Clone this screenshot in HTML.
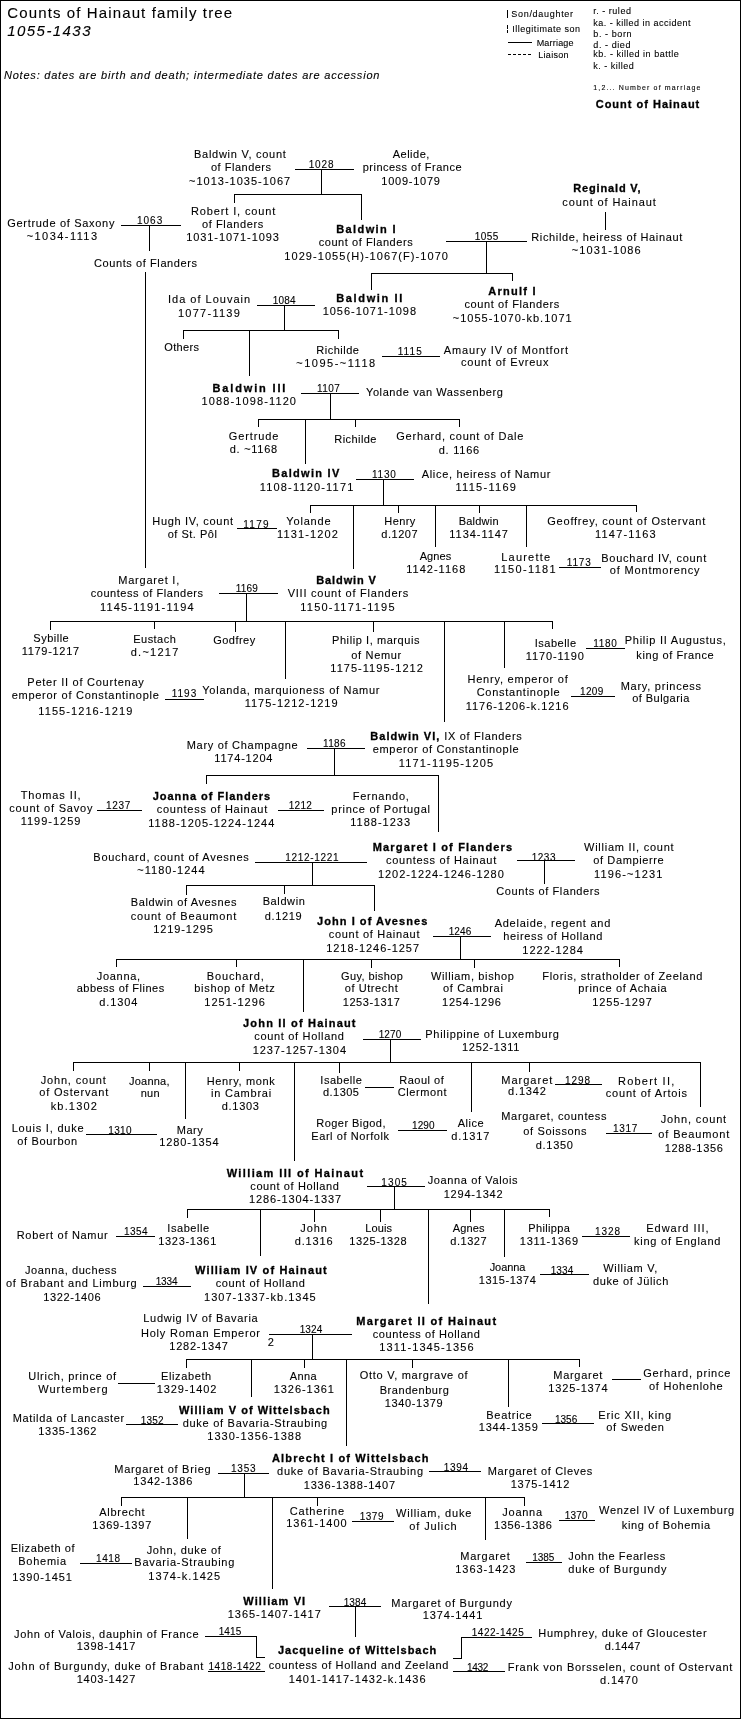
<!DOCTYPE html>
<html><head><meta charset="utf-8"><style>
html,body{margin:0;padding:0;background:#fff}
#pg{position:relative;width:741px;height:1719px;overflow:hidden;background:#fff;filter:grayscale(1)}
#pg div{position:absolute;white-space:nowrap;font-family:"Liberation Sans",sans-serif;font-size:11px;line-height:13px;color:#000;-webkit-text-stroke:0.1px #000}
#bd{position:absolute;left:0;top:0;width:739px;height:1717px;border:1px solid #000}
svg{position:absolute;left:0;top:0}
</style></head><body><div id="pg">
<span id="bd"></span>
<svg width="741" height="1719" fill="none" stroke="#000" stroke-width="1" shape-rendering="crispEdges">
<polyline points="507.5,9.5 507.5,17.5"/>
<polyline points="507.5,24.5 507.5,32.5" stroke-dasharray="4,1"/>
<polyline points="507.5,42.5 531.5,42.5"/>
<polyline points="507.5,54.5 531.5,54.5" stroke-dasharray="3,2"/>
<polyline points="294.5,169.5 353.5,169.5"/>
<polyline points="321.5,169.5 321.5,193.5"/>
<polyline points="234.5,202.5 234.5,194.5 361.5,194.5 361.5,219.5"/>
<polyline points="120.5,225.5 180.5,225.5"/>
<polyline points="149.5,225.5 149.5,250.5"/>
<polyline points="145.5,271.5 145.5,567.5"/>
<polyline points="445.5,241.5 526.5,241.5"/>
<polyline points="605.5,211.5 605.5,229.5"/>
<polyline points="486.5,241.5 486.5,273.5"/>
<polyline points="371.5,289.5 371.5,273.5 512.5,273.5 512.5,280.5"/>
<polyline points="256.5,305.5 314.5,305.5"/>
<polyline points="284.5,305.5 284.5,330.5"/>
<polyline points="183.5,338.5 183.5,330.5 338.5,330.5 338.5,338.5"/>
<polyline points="249.5,330.5 249.5,375.5"/>
<polyline points="381.5,356.5 439.5,356.5"/>
<polyline points="300.5,393.5 358.5,393.5"/>
<polyline points="330.5,393.5 330.5,419.5"/>
<polyline points="258.5,426.5 258.5,419.5 459.5,419.5 459.5,426.5"/>
<polyline points="355.5,419.5 355.5,426.5"/>
<polyline points="305.5,419.5 305.5,463.5"/>
<polyline points="355.5,479.5 413.5,479.5"/>
<polyline points="383.5,479.5 383.5,505.5"/>
<polyline points="310.5,512.5 310.5,505.5 636.5,505.5 636.5,511.5"/>
<polyline points="398.5,505.5 398.5,512.5"/>
<polyline points="479.5,505.5 479.5,512.5"/>
<polyline points="353.5,505.5 353.5,568.5"/>
<polyline points="435.5,505.5 435.5,546.5"/>
<polyline points="526.5,505.5 526.5,546.5"/>
<polyline points="236.5,528.5 276.5,528.5"/>
<polyline points="558.5,567.5 600.5,567.5"/>
<polyline points="218.5,593.5 277.5,593.5"/>
<polyline points="50.5,629.5 50.5,621.5 552.5,621.5 552.5,628.5"/>
<polyline points="154.5,621.5 154.5,628.5"/>
<polyline points="235.5,621.5 235.5,631.5"/>
<polyline points="373.5,621.5 373.5,631.5"/>
<polyline points="285.5,621.5 285.5,678.5"/>
<polyline points="504.5,621.5 504.5,667.5"/>
<polyline points="246.5,593.5 246.5,621.5"/>
<polyline points="585.5,648.5 624.5,648.5"/>
<polyline points="164.5,699.5 203.5,699.5"/>
<polyline points="570.5,696.5 614.5,696.5"/>
<polyline points="444.5,621.5 444.5,721.5"/>
<polyline points="306.5,748.5 364.5,748.5"/>
<polyline points="334.5,748.5 334.5,775.5"/>
<polyline points="206.5,783.5 206.5,775.5 438.5,775.5 438.5,831.5"/>
<polyline points="96.5,810.5 141.5,810.5"/>
<polyline points="277.5,810.5 323.5,810.5"/>
<polyline points="254.5,862.5 366.5,862.5"/>
<polyline points="312.5,862.5 312.5,885.5"/>
<polyline points="186.5,894.5 186.5,885.5 374.5,885.5 374.5,910.5"/>
<polyline points="284.5,885.5 284.5,893.5"/>
<polyline points="516.5,860.5 574.5,860.5"/>
<polyline points="544.5,860.5 544.5,883.5"/>
<polyline points="432.5,936.5 490.5,936.5"/>
<polyline points="460.5,936.5 460.5,959.5"/>
<polyline points="116.5,966.5 116.5,959.5 619.5,959.5 619.5,966.5"/>
<polyline points="236.5,959.5 236.5,966.5"/>
<polyline points="371.5,959.5 371.5,967.5"/>
<polyline points="474.5,959.5 474.5,967.5"/>
<polyline points="303.5,959.5 303.5,1011.5"/>
<polyline points="362.5,1039.5 420.5,1039.5"/>
<polyline points="390.5,1039.5 390.5,1062.5"/>
<polyline points="73.5,1070.5 73.5,1062.5 700.5,1062.5 700.5,1106.5"/>
<polyline points="149.5,1062.5 149.5,1070.5"/>
<polyline points="239.5,1062.5 239.5,1070.5"/>
<polyline points="339.5,1062.5 339.5,1072.5"/>
<polyline points="529.5,1062.5 529.5,1071.5"/>
<polyline points="185.5,1062.5 185.5,1118.5"/>
<polyline points="294.5,1062.5 294.5,1160.5"/>
<polyline points="471.5,1062.5 471.5,1111.5"/>
<polyline points="85.5,1134.5 156.5,1134.5"/>
<polyline points="364.5,1087.5 393.5,1087.5"/>
<polyline points="397.5,1130.5 446.5,1130.5"/>
<polyline points="554.5,1084.5 601.5,1084.5"/>
<polyline points="605.5,1133.5 651.5,1133.5"/>
<polyline points="366.5,1186.5 424.5,1186.5"/>
<polyline points="394.5,1186.5 394.5,1209.5"/>
<polyline points="187.5,1217.5 187.5,1209.5 549.5,1209.5 549.5,1216.5"/>
<polyline points="314.5,1209.5 314.5,1221.5"/>
<polyline points="380.5,1209.5 380.5,1221.5"/>
<polyline points="470.5,1209.5 470.5,1221.5"/>
<polyline points="260.5,1209.5 260.5,1255.5"/>
<polyline points="428.5,1209.5 428.5,1303.5"/>
<polyline points="504.5,1209.5 504.5,1256.5"/>
<polyline points="115.5,1236.5 154.5,1236.5"/>
<polyline points="581.5,1236.5 629.5,1236.5"/>
<polyline points="142.5,1286.5 190.5,1286.5"/>
<polyline points="539.5,1274.5 588.5,1274.5"/>
<polyline points="268.5,1334.5 351.5,1334.5"/>
<polyline points="312.5,1334.5 312.5,1359.5"/>
<polyline points="186.5,1367.5 186.5,1359.5 579.5,1359.5 579.5,1366.5"/>
<polyline points="304.5,1359.5 304.5,1367.5"/>
<polyline points="412.5,1359.5 412.5,1367.5"/>
<polyline points="251.5,1359.5 251.5,1396.5"/>
<polyline points="346.5,1359.5 346.5,1445.5"/>
<polyline points="508.5,1359.5 508.5,1406.5"/>
<polyline points="117.5,1383.5 154.5,1383.5"/>
<polyline points="611.5,1379.5 640.5,1379.5"/>
<polyline points="125.5,1424.5 177.5,1424.5"/>
<polyline points="541.5,1423.5 593.5,1423.5"/>
<polyline points="217.5,1473.5 268.5,1473.5"/>
<polyline points="244.5,1473.5 244.5,1497.5"/>
<polyline points="428.5,1471.5 480.5,1471.5"/>
<polyline points="121.5,1505.5 121.5,1497.5 524.5,1497.5 524.5,1505.5"/>
<polyline points="187.5,1497.5 187.5,1538.5"/>
<polyline points="272.5,1497.5 272.5,1588.5"/>
<polyline points="317.5,1497.5 317.5,1505.5"/>
<polyline points="485.5,1497.5 485.5,1539.5"/>
<polyline points="351.5,1521.5 393.5,1521.5"/>
<polyline points="558.5,1520.5 594.5,1520.5"/>
<polyline points="79.5,1563.5 131.5,1563.5"/>
<polyline points="525.5,1562.5 561.5,1562.5"/>
<polyline points="328.5,1606.5 380.5,1606.5"/>
<polyline points="355.5,1606.5 355.5,1636.5"/>
<polyline points="204.5,1636.5 256.5,1636.5 256.5,1657.5 264.5,1657.5"/>
<polyline points="207.5,1671.5 264.5,1671.5"/>
<polyline points="452.5,1658.5 461.5,1658.5 461.5,1637.5 531.5,1637.5"/>
<polyline points="452.5,1671.5 504.5,1671.5"/>
</svg>
<div style="left:7.3px;top:6.3px;letter-spacing:1.12px;font-size:15px">Counts of Hainaut family tree</div>
<div style="left:7.3px;top:24.4px;letter-spacing:1.43px;font-size:15px;font-style:italic">1055-1433</div>
<div style="left:4.0px;top:69.2px;letter-spacing:0.78px;font-size:11px;font-style:italic">Notes: dates are birth and death; intermediate dates are accession</div>
<div style="left:511.3px;top:8.2px;letter-spacing:0.70px;font-size:9px">Son/daughter</div>
<div style="left:512.3px;top:23.2px;letter-spacing:0.51px;font-size:9px">Illegitimate son</div>
<div style="left:536.7px;top:36.6px;letter-spacing:0.19px;font-size:9px">Marriage</div>
<div style="left:538.3px;top:49.2px;letter-spacing:0.28px;font-size:9px">Liaison</div>
<div style="left:593.3px;top:5.2px;letter-spacing:0.51px;font-size:9px">r. - ruled</div>
<div style="left:593.3px;top:16.9px;letter-spacing:0.48px;font-size:9px">ka. - killed in accident</div>
<div style="left:593.3px;top:27.9px;letter-spacing:0.59px;font-size:9px">b. - born</div>
<div style="left:593.3px;top:38.6px;letter-spacing:0.58px;font-size:9px">d. - died</div>
<div style="left:593.3px;top:47.9px;letter-spacing:0.52px;font-size:9px">kb. - killed in battle</div>
<div style="left:593.3px;top:60.2px;letter-spacing:0.50px;font-size:9px">k. - killed</div>
<div style="left:593.3px;top:81.1px;letter-spacing:1.14px;font-size:7px">1,2... Number of marriage</div>
<div style="left:595.7px;top:98.2px;letter-spacing:1.00px;font-size:11px;font-weight:bold;-webkit-text-stroke:0.3px #000">Count of Hainaut</div>
<div style="left:194.0px;top:147.7px;letter-spacing:0.73px;font-size:11px">Baldwin V, count</div>
<div style="left:211.0px;top:161.2px;letter-spacing:0.50px;font-size:11px">of Flanders</div>
<div style="left:189.0px;top:174.7px;letter-spacing:1.00px;font-size:11px">~1013-1035-1067</div>
<div style="left:308.7px;top:157.5px;letter-spacing:0.87px;font-size:10px">1028</div>
<div style="left:392.7px;top:147.7px;letter-spacing:0.50px;font-size:11px">Aelide,</div>
<div style="left:362.7px;top:161.2px;letter-spacing:0.49px;font-size:11px">princess of France</div>
<div style="left:381.3px;top:174.7px;letter-spacing:0.75px;font-size:11px">1009-1079</div>
<div style="left:7.3px;top:216.9px;letter-spacing:0.69px;font-size:11px">Gertrude of Saxony</div>
<div style="left:26.7px;top:229.9px;letter-spacing:1.44px;font-size:11px">~1034-1113</div>
<div style="left:137.0px;top:213.5px;letter-spacing:1.00px;font-size:10px">1063</div>
<div style="left:94.0px;top:256.9px;letter-spacing:0.59px;font-size:11px">Counts of Flanders</div>
<div style="left:191.0px;top:205.0px;letter-spacing:0.87px;font-size:11px">Robert I, count</div>
<div style="left:201.9px;top:217.6px;letter-spacing:0.63px;font-size:11px">of Flanders</div>
<div style="left:186.2px;top:231.4px;letter-spacing:0.92px;font-size:11px">1031-1071-1093</div>
<div style="left:336.3px;top:222.7px;letter-spacing:1.38px;font-size:11px;font-weight:bold;-webkit-text-stroke:0.3px #000">Baldwin I</div>
<div style="left:318.7px;top:235.9px;letter-spacing:0.56px;font-size:11px">count of Flanders</div>
<div style="left:284.3px;top:249.5px;letter-spacing:1.06px;font-size:11px">1029-1055(H)-1067(F)-1070</div>
<div style="left:573.3px;top:181.9px;letter-spacing:0.84px;font-size:11px;font-weight:bold;-webkit-text-stroke:0.3px #000">Reginald V,</div>
<div style="left:562.3px;top:196.2px;letter-spacing:0.89px;font-size:11px">count of Hainaut</div>
<div style="left:531.3px;top:231.2px;letter-spacing:0.63px;font-size:11px">Richilde, heiress of Hainaut</div>
<div style="left:571.7px;top:243.5px;letter-spacing:1.11px;font-size:11px">~1031-1086</div>
<div style="left:474.8px;top:230.1px;letter-spacing:0.43px;font-size:10px">1055</div>
<div style="left:336.3px;top:292.2px;letter-spacing:1.63px;font-size:11px;font-weight:bold;-webkit-text-stroke:0.3px #000">Baldwin II</div>
<div style="left:322.7px;top:305.2px;letter-spacing:0.97px;font-size:11px">1056-1071-1098</div>
<div style="left:488.3px;top:285.0px;letter-spacing:1.26px;font-size:11px;font-weight:bold;-webkit-text-stroke:0.3px #000">Arnulf I</div>
<div style="left:464.4px;top:297.5px;letter-spacing:0.62px;font-size:11px">count of Flanders</div>
<div style="left:452.8px;top:311.9px;letter-spacing:1.00px;font-size:11px">~1055-1070-kb.1071</div>
<div style="left:168.0px;top:293.2px;letter-spacing:1.00px;font-size:11px">Ida of Louvain</div>
<div style="left:178.0px;top:306.9px;letter-spacing:1.25px;font-size:11px">1077-1139</div>
<div style="left:272.7px;top:293.5px;letter-spacing:0.20px;font-size:10px">1084</div>
<div style="left:164.3px;top:340.9px;letter-spacing:0.34px;font-size:11px">Others</div>
<div style="left:316.3px;top:343.7px;letter-spacing:0.49px;font-size:11px">Richilde</div>
<div style="left:296.3px;top:356.9px;letter-spacing:1.50px;font-size:11px">~1095-~1118</div>
<div style="left:397.7px;top:345.0px;letter-spacing:1.10px;font-size:10px">1115</div>
<div style="left:443.7px;top:344.2px;letter-spacing:0.87px;font-size:11px">Amaury IV of Montfort</div>
<div style="left:461.0px;top:356.2px;letter-spacing:0.79px;font-size:11px">count of Evreux</div>
<div style="left:212.5px;top:381.9px;letter-spacing:1.85px;font-size:11px;font-weight:bold;-webkit-text-stroke:0.3px #000">Baldwin III</div>
<div style="left:201.5px;top:395.2px;letter-spacing:1.12px;font-size:11px">1088-1098-1120</div>
<div style="left:317.0px;top:381.5px;letter-spacing:0.43px;font-size:10px">1107</div>
<div style="left:366.0px;top:385.9px;letter-spacing:0.59px;font-size:11px">Yolande van Wassenberg</div>
<div style="left:228.8px;top:429.5px;letter-spacing:0.87px;font-size:11px">Gertrude</div>
<div style="left:229.8px;top:442.5px;letter-spacing:0.71px;font-size:11px">d. ~1168</div>
<div style="left:334.3px;top:432.5px;letter-spacing:0.43px;font-size:11px">Richilde</div>
<div style="left:396.3px;top:429.5px;letter-spacing:0.75px;font-size:11px">Gerhard, count of Dale</div>
<div style="left:438.7px;top:444.2px;letter-spacing:0.77px;font-size:11px">d. 1166</div>
<div style="left:272.0px;top:466.9px;letter-spacing:1.30px;font-size:11px;font-weight:bold;-webkit-text-stroke:0.3px #000">Baldwin IV</div>
<div style="left:259.7px;top:480.9px;letter-spacing:1.18px;font-size:11px">1108-1120-1171</div>
<div style="left:372.0px;top:467.5px;letter-spacing:0.77px;font-size:10px">1130</div>
<div style="left:421.7px;top:467.7px;letter-spacing:0.68px;font-size:11px">Alice, heiress of Namur</div>
<div style="left:455.5px;top:480.7px;letter-spacing:1.28px;font-size:11px">1115-1169</div>
<div style="left:152.3px;top:515.2px;letter-spacing:0.69px;font-size:11px">Hugh IV, count</div>
<div style="left:167.7px;top:527.9px;letter-spacing:0.51px;font-size:11px">of St. Pôl</div>
<div style="left:243.2px;top:517.5px;letter-spacing:1.30px;font-size:10px">1179</div>
<div style="left:286.3px;top:515.2px;letter-spacing:0.83px;font-size:11px">Yolande</div>
<div style="left:277.0px;top:527.9px;letter-spacing:1.12px;font-size:11px">1131-1202</div>
<div style="left:384.3px;top:515.2px;letter-spacing:0.42px;font-size:11px">Henry</div>
<div style="left:381.3px;top:527.9px;letter-spacing:0.54px;font-size:11px">d.1207</div>
<div style="left:458.7px;top:515.2px;letter-spacing:0.22px;font-size:11px">Baldwin</div>
<div style="left:449.3px;top:527.9px;letter-spacing:0.96px;font-size:11px">1134-1147</div>
<div style="left:547.3px;top:514.5px;letter-spacing:0.77px;font-size:11px">Geoffrey, count of Ostervant</div>
<div style="left:595.0px;top:527.5px;letter-spacing:1.21px;font-size:11px">1147-1163</div>
<div style="left:419.7px;top:550.2px;letter-spacing:0.08px;font-size:11px">Agnes</div>
<div style="left:406.3px;top:562.9px;letter-spacing:1.00px;font-size:11px">1142-1168</div>
<div style="left:501.3px;top:550.9px;letter-spacing:1.20px;font-size:11px">Laurette</div>
<div style="left:494.0px;top:562.9px;letter-spacing:1.34px;font-size:11px">1150-1181</div>
<div style="left:566.7px;top:555.5px;letter-spacing:0.87px;font-size:10px">1173</div>
<div style="left:601.3px;top:551.9px;letter-spacing:0.73px;font-size:11px">Bouchard IV, count</div>
<div style="left:609.7px;top:564.2px;letter-spacing:0.85px;font-size:11px">of Montmorency</div>
<div style="left:118.3px;top:574.2px;letter-spacing:0.77px;font-size:11px">Margaret I,</div>
<div style="left:90.7px;top:586.9px;letter-spacing:0.54px;font-size:11px">countess of Flanders</div>
<div style="left:100.0px;top:600.9px;letter-spacing:1.18px;font-size:11px">1145-1191-1194</div>
<div style="left:235.8px;top:582.3px;letter-spacing:0.17px;font-size:10px">1169</div>
<div style="left:316.3px;top:573.5px;letter-spacing:0.88px;font-size:11px;font-weight:bold;-webkit-text-stroke:0.3px #000">Baldwin V</div>
<div style="left:287.7px;top:586.9px;letter-spacing:0.76px;font-size:11px">VIII count of Flanders</div>
<div style="left:300.3px;top:600.9px;letter-spacing:1.23px;font-size:11px">1150-1171-1195</div>
<div style="left:33.3px;top:631.9px;letter-spacing:0.50px;font-size:11px">Sybille</div>
<div style="left:21.7px;top:645.2px;letter-spacing:0.70px;font-size:11px">1179-1217</div>
<div style="left:133.3px;top:632.9px;letter-spacing:0.45px;font-size:11px">Eustach</div>
<div style="left:130.7px;top:645.9px;letter-spacing:1.27px;font-size:11px">d.~1217</div>
<div style="left:213.3px;top:633.5px;letter-spacing:0.45px;font-size:11px">Godfrey</div>
<div style="left:332.0px;top:633.5px;letter-spacing:0.58px;font-size:11px">Philip I, marquis</div>
<div style="left:351.3px;top:648.5px;letter-spacing:0.67px;font-size:11px">of Nemur</div>
<div style="left:330.3px;top:661.9px;letter-spacing:1.03px;font-size:11px">1175-1195-1212</div>
<div style="left:534.7px;top:636.9px;letter-spacing:0.51px;font-size:11px">Isabelle</div>
<div style="left:525.7px;top:649.5px;letter-spacing:0.91px;font-size:11px">1170-1190</div>
<div style="left:593.3px;top:637.2px;letter-spacing:0.67px;font-size:10px">1180</div>
<div style="left:624.7px;top:633.5px;letter-spacing:0.76px;font-size:11px">Philip II Augustus,</div>
<div style="left:636.3px;top:648.5px;letter-spacing:0.59px;font-size:11px">king of France</div>
<div style="left:27.3px;top:676.2px;letter-spacing:0.75px;font-size:11px">Peter II of Courtenay</div>
<div style="left:11.7px;top:688.9px;letter-spacing:0.73px;font-size:11px">emperor of Constantinople</div>
<div style="left:171.7px;top:687.0px;letter-spacing:1.00px;font-size:10px">1193</div>
<div style="left:202.3px;top:683.5px;letter-spacing:0.73px;font-size:11px">Yolanda, marquioness of Namur</div>
<div style="left:467.5px;top:673.2px;letter-spacing:0.78px;font-size:11px">Henry, emperor of</div>
<div style="left:476.7px;top:685.7px;letter-spacing:0.74px;font-size:11px">Constantinople</div>
<div style="left:580.0px;top:684.5px;letter-spacing:0.33px;font-size:10px">1209</div>
<div style="left:620.7px;top:679.5px;letter-spacing:0.74px;font-size:11px">Mary, princess</div>
<div style="left:38.3px;top:705.2px;letter-spacing:1.08px;font-size:11px">1155-1216-1219</div>
<div style="left:465.8px;top:699.5px;letter-spacing:0.95px;font-size:11px">1176-1206-k.1216</div>
<div style="left:632.3px;top:691.9px;letter-spacing:0.44px;font-size:11px">of Bulgaria</div>
<div style="left:186.7px;top:738.5px;letter-spacing:0.71px;font-size:11px">Mary of Champagne</div>
<div style="left:214.3px;top:751.9px;letter-spacing:0.80px;font-size:11px">1174-1204</div>
<div style="left:323.0px;top:737.0px;letter-spacing:0.33px;font-size:10px">1186</div>
<div style="left:370.3px;top:729.5px;letter-spacing:1.04px;font-size:11px;font-weight:bold;-webkit-text-stroke:0.3px #000">Baldwin VI,</div>
<div style="left:444.3px;top:729.5px;letter-spacing:0.69px;font-size:11px">IX of Flanders</div>
<div style="left:372.7px;top:742.9px;letter-spacing:0.68px;font-size:11px">emperor of Constantinople</div>
<div style="left:398.7px;top:756.9px;letter-spacing:1.18px;font-size:11px">1171-1195-1205</div>
<div style="left:20.7px;top:788.5px;letter-spacing:0.89px;font-size:11px">Thomas II,</div>
<div style="left:9.3px;top:801.9px;letter-spacing:0.80px;font-size:11px">count of Savoy</div>
<div style="left:20.7px;top:815.2px;letter-spacing:1.00px;font-size:11px">1199-1259</div>
<div style="left:106.0px;top:798.8px;letter-spacing:0.67px;font-size:10px">1237</div>
<div style="left:152.7px;top:789.7px;letter-spacing:0.98px;font-size:11px;font-weight:bold;-webkit-text-stroke:0.3px #000">Joanna of Flanders</div>
<div style="left:156.7px;top:802.9px;letter-spacing:0.74px;font-size:11px">countess of Hainaut</div>
<div style="left:148.3px;top:816.9px;letter-spacing:1.00px;font-size:11px">1188-1205-1224-1244</div>
<div style="left:288.7px;top:798.8px;letter-spacing:0.33px;font-size:10px">1212</div>
<div style="left:352.7px;top:789.5px;letter-spacing:0.75px;font-size:11px">Fernando,</div>
<div style="left:331.3px;top:802.9px;letter-spacing:0.73px;font-size:11px">prince of Portugal</div>
<div style="left:350.3px;top:816.2px;letter-spacing:1.00px;font-size:11px">1188-1233</div>
<div style="left:93.3px;top:850.9px;letter-spacing:0.75px;font-size:11px">Bouchard, count of Avesnes</div>
<div style="left:137.3px;top:864.2px;letter-spacing:1.00px;font-size:11px">~1180-1244</div>
<div style="left:285.3px;top:851.2px;letter-spacing:0.67px;font-size:10px">1212-1221</div>
<div style="left:372.7px;top:840.7px;letter-spacing:1.17px;font-size:11px;font-weight:bold;-webkit-text-stroke:0.3px #000">Margaret I of Flanders</div>
<div style="left:386.0px;top:854.2px;letter-spacing:0.72px;font-size:11px">countess of Hainaut</div>
<div style="left:378.0px;top:867.9px;letter-spacing:0.94px;font-size:11px">1202-1224-1246-1280</div>
<div style="left:531.7px;top:850.5px;letter-spacing:0.53px;font-size:10px">1233</div>
<div style="left:584.0px;top:840.9px;letter-spacing:0.75px;font-size:11px">William II, count</div>
<div style="left:593.3px;top:854.2px;letter-spacing:0.61px;font-size:11px">of Dampierre</div>
<div style="left:594.0px;top:867.5px;letter-spacing:1.14px;font-size:11px">1196-~1231</div>
<div style="left:496.3px;top:884.5px;letter-spacing:0.61px;font-size:11px">Counts of Flanders</div>
<div style="left:130.7px;top:896.2px;letter-spacing:0.62px;font-size:11px">Baldwin of Avesnes</div>
<div style="left:130.7px;top:909.5px;letter-spacing:0.83px;font-size:11px">count of Beaumont</div>
<div style="left:153.3px;top:922.9px;letter-spacing:0.88px;font-size:11px">1219-1295</div>
<div style="left:262.7px;top:895.2px;letter-spacing:0.60px;font-size:11px">Baldwin</div>
<div style="left:264.7px;top:909.5px;letter-spacing:0.66px;font-size:11px">d.1219</div>
<div style="left:317.0px;top:914.5px;letter-spacing:1.06px;font-size:11px;font-weight:bold;-webkit-text-stroke:0.3px #000">John I of Avesnes</div>
<div style="left:328.7px;top:927.9px;letter-spacing:0.71px;font-size:11px">count of Hainaut</div>
<div style="left:326.3px;top:941.9px;letter-spacing:0.92px;font-size:11px">1218-1246-1257</div>
<div style="left:448.7px;top:924.8px;letter-spacing:0.10px;font-size:10px">1246</div>
<div style="left:494.7px;top:916.9px;letter-spacing:0.74px;font-size:11px">Adelaide, regent and</div>
<div style="left:503.3px;top:930.2px;letter-spacing:0.65px;font-size:11px">heiress of Holland</div>
<div style="left:522.3px;top:943.5px;letter-spacing:1.00px;font-size:11px">1222-1284</div>
<div style="left:96.7px;top:970.2px;letter-spacing:0.72px;font-size:11px">Joanna,</div>
<div style="left:76.7px;top:981.9px;letter-spacing:0.49px;font-size:11px">abbess of Flines</div>
<div style="left:99.3px;top:995.9px;letter-spacing:0.88px;font-size:11px">d.1304</div>
<div style="left:206.7px;top:970.2px;letter-spacing:0.88px;font-size:11px">Bouchard,</div>
<div style="left:194.3px;top:981.9px;letter-spacing:0.69px;font-size:11px">bishop of Metz</div>
<div style="left:204.3px;top:995.9px;letter-spacing:1.00px;font-size:11px">1251-1296</div>
<div style="left:341.0px;top:970.2px;letter-spacing:0.40px;font-size:11px">Guy, bishop</div>
<div style="left:344.7px;top:981.9px;letter-spacing:0.59px;font-size:11px">of Utrecht</div>
<div style="left:342.7px;top:995.9px;letter-spacing:0.58px;font-size:11px">1253-1317</div>
<div style="left:431.0px;top:970.2px;letter-spacing:0.64px;font-size:11px">William, bishop</div>
<div style="left:443.0px;top:981.9px;letter-spacing:0.67px;font-size:11px">of Cambrai</div>
<div style="left:442.0px;top:995.9px;letter-spacing:0.79px;font-size:11px">1254-1296</div>
<div style="left:542.3px;top:970.2px;letter-spacing:0.69px;font-size:11px">Floris, stratholder of Zeeland</div>
<div style="left:578.3px;top:981.9px;letter-spacing:0.67px;font-size:11px">prince of Achaia</div>
<div style="left:592.3px;top:995.9px;letter-spacing:0.88px;font-size:11px">1255-1297</div>
<div style="left:243.0px;top:1016.9px;letter-spacing:1.19px;font-size:11px;font-weight:bold;-webkit-text-stroke:0.3px #000">John II of Hainaut</div>
<div style="left:254.3px;top:1030.2px;letter-spacing:0.67px;font-size:11px">count of Holland</div>
<div style="left:252.7px;top:1043.5px;letter-spacing:0.97px;font-size:11px">1237-1257-1304</div>
<div style="left:378.7px;top:1027.8px;letter-spacing:0.10px;font-size:10px">1270</div>
<div style="left:425.3px;top:1027.5px;letter-spacing:0.71px;font-size:11px">Philippine of Luxemburg</div>
<div style="left:462.0px;top:1040.9px;letter-spacing:0.71px;font-size:11px">1252-1311</div>
<div style="left:40.7px;top:1074.2px;letter-spacing:0.83px;font-size:11px">John, count</div>
<div style="left:39.3px;top:1086.2px;letter-spacing:0.82px;font-size:11px">of Ostervant</div>
<div style="left:50.7px;top:1099.5px;letter-spacing:1.17px;font-size:11px">kb.1302</div>
<div style="left:129.0px;top:1075.2px;letter-spacing:0.22px;font-size:11px">Joanna,</div>
<div style="left:140.7px;top:1086.9px;letter-spacing:0.30px;font-size:11px">nun</div>
<div style="left:206.7px;top:1075.2px;letter-spacing:0.66px;font-size:11px">Henry, monk</div>
<div style="left:211.0px;top:1086.9px;letter-spacing:0.78px;font-size:11px">in Cambrai</div>
<div style="left:221.7px;top:1100.2px;letter-spacing:0.72px;font-size:11px">d.1303</div>
<div style="left:11.7px;top:1121.9px;letter-spacing:0.80px;font-size:11px">Louis I, duke</div>
<div style="left:17.3px;top:1135.2px;letter-spacing:0.67px;font-size:11px">of Bourbon</div>
<div style="left:108.3px;top:1123.8px;letter-spacing:0.33px;font-size:10px">1310</div>
<div style="left:176.7px;top:1123.5px;letter-spacing:0.53px;font-size:11px">Mary</div>
<div style="left:159.3px;top:1135.9px;letter-spacing:0.84px;font-size:11px">1280-1354</div>
<div style="left:320.3px;top:1073.5px;letter-spacing:0.53px;font-size:11px">Isabelle</div>
<div style="left:323.0px;top:1085.9px;letter-spacing:0.46px;font-size:11px">d.1305</div>
<div style="left:399.3px;top:1073.5px;letter-spacing:0.49px;font-size:11px">Raoul of</div>
<div style="left:397.7px;top:1085.9px;letter-spacing:0.61px;font-size:11px">Clermont</div>
<div style="left:316.3px;top:1116.9px;letter-spacing:0.45px;font-size:11px">Roger Bigod,</div>
<div style="left:311.3px;top:1129.5px;letter-spacing:0.57px;font-size:11px">Earl of Norfolk</div>
<div style="left:412.0px;top:1118.8px;letter-spacing:0.10px;font-size:10px">1290</div>
<div style="left:457.7px;top:1116.9px;letter-spacing:0.50px;font-size:11px">Alice</div>
<div style="left:451.3px;top:1129.5px;letter-spacing:0.88px;font-size:11px">d.1317</div>
<div style="left:501.3px;top:1073.5px;letter-spacing:1.00px;font-size:11px">Margaret</div>
<div style="left:508.0px;top:1085.2px;letter-spacing:0.86px;font-size:11px">d.1342</div>
<div style="left:565.0px;top:1073.8px;letter-spacing:0.90px;font-size:10px">1298</div>
<div style="left:618.0px;top:1075.2px;letter-spacing:1.22px;font-size:11px">Robert II,</div>
<div style="left:605.7px;top:1086.9px;letter-spacing:0.83px;font-size:11px">count of Artois</div>
<div style="left:501.3px;top:1110.2px;letter-spacing:0.65px;font-size:11px">Margaret, countess</div>
<div style="left:523.3px;top:1125.2px;letter-spacing:0.64px;font-size:11px">of Soissons</div>
<div style="left:535.7px;top:1138.5px;letter-spacing:0.72px;font-size:11px">d.1350</div>
<div style="left:613.0px;top:1122.0px;letter-spacing:0.67px;font-size:10px">1317</div>
<div style="left:660.7px;top:1112.9px;letter-spacing:0.86px;font-size:11px">John, count</div>
<div style="left:658.3px;top:1127.9px;letter-spacing:0.87px;font-size:11px">of Beaumont</div>
<div style="left:664.7px;top:1141.9px;letter-spacing:0.70px;font-size:11px">1288-1356</div>
<div style="left:226.7px;top:1166.9px;letter-spacing:1.38px;font-size:11px;font-weight:bold;-webkit-text-stroke:0.3px #000">William III of Hainaut</div>
<div style="left:250.3px;top:1180.2px;letter-spacing:0.60px;font-size:11px">count of Holland</div>
<div style="left:249.0px;top:1192.9px;letter-spacing:0.87px;font-size:11px">1286-1304-1337</div>
<div style="left:381.3px;top:1176.2px;letter-spacing:1.13px;font-size:10px">1305</div>
<div style="left:427.7px;top:1174.2px;letter-spacing:0.62px;font-size:11px">Joanna of Valois</div>
<div style="left:443.7px;top:1187.5px;letter-spacing:0.79px;font-size:11px">1294-1342</div>
<div style="left:16.7px;top:1229.2px;letter-spacing:0.69px;font-size:11px">Robert of Namur</div>
<div style="left:124.0px;top:1224.8px;letter-spacing:0.43px;font-size:10px">1354</div>
<div style="left:167.3px;top:1221.9px;letter-spacing:0.57px;font-size:11px">Isabelle</div>
<div style="left:158.3px;top:1235.2px;letter-spacing:0.67px;font-size:11px">1323-1361</div>
<div style="left:300.3px;top:1221.9px;letter-spacing:0.90px;font-size:11px">John</div>
<div style="left:294.7px;top:1234.5px;letter-spacing:0.86px;font-size:11px">d.1316</div>
<div style="left:365.3px;top:1221.9px;letter-spacing:0.10px;font-size:11px">Louis</div>
<div style="left:349.3px;top:1234.5px;letter-spacing:0.59px;font-size:11px">1325-1328</div>
<div style="left:452.7px;top:1221.9px;letter-spacing:0.15px;font-size:11px">Agnes</div>
<div style="left:450.3px;top:1234.5px;letter-spacing:0.54px;font-size:11px">d.1327</div>
<div style="left:528.3px;top:1221.9px;letter-spacing:0.34px;font-size:11px">Philippa</div>
<div style="left:519.7px;top:1234.5px;letter-spacing:0.82px;font-size:11px">1311-1369</div>
<div style="left:595.0px;top:1224.8px;letter-spacing:0.90px;font-size:10px">1328</div>
<div style="left:646.3px;top:1221.9px;letter-spacing:0.97px;font-size:11px">Edward III,</div>
<div style="left:634.0px;top:1234.5px;letter-spacing:0.76px;font-size:11px">king of England</div>
<div style="left:244.7px;top:696.9px;letter-spacing:1.00px;font-size:11px">1175-1212-1219</div>
<div style="left:25.0px;top:1264.2px;letter-spacing:0.59px;font-size:11px">Joanna, duchess</div>
<div style="left:6.0px;top:1276.9px;letter-spacing:0.75px;font-size:11px">of Brabant and Limburg</div>
<div style="left:43.3px;top:1290.9px;letter-spacing:0.59px;font-size:11px">1322-1406</div>
<div style="left:155.7px;top:1274.5px;letter-spacing:-0.13px;font-size:10px">1334</div>
<div style="left:195.0px;top:1263.5px;letter-spacing:1.15px;font-size:11px;font-weight:bold;-webkit-text-stroke:0.3px #000">William IV of Hainaut</div>
<div style="left:215.7px;top:1276.9px;letter-spacing:0.64px;font-size:11px">count of Holland</div>
<div style="left:204.0px;top:1290.5px;letter-spacing:1.02px;font-size:11px">1307-1337-kb.1345</div>
<div style="left:489.7px;top:1260.9px;letter-spacing:-0.08px;font-size:11px">Joanna</div>
<div style="left:478.7px;top:1273.5px;letter-spacing:0.57px;font-size:11px">1315-1374</div>
<div style="left:550.7px;top:1263.8px;letter-spacing:0.10px;font-size:10px">1334</div>
<div style="left:603.3px;top:1261.9px;letter-spacing:0.67px;font-size:11px">William V,</div>
<div style="left:593.0px;top:1274.5px;letter-spacing:0.62px;font-size:11px">duke of Jülich</div>
<div style="left:143.3px;top:1311.9px;letter-spacing:0.71px;font-size:11px">Ludwig IV of Bavaria</div>
<div style="left:141.0px;top:1326.9px;letter-spacing:0.78px;font-size:11px">Holy Roman Emperor</div>
<div style="left:169.3px;top:1340.2px;letter-spacing:0.75px;font-size:11px">1282-1347</div>
<div style="left:299.7px;top:1323.2px;letter-spacing:0.10px;font-size:10px">1324</div>
<div style="left:267.7px;top:1336.2px;letter-spacing:-0.70px;font-size:11px">2</div>
<div style="left:356.3px;top:1314.5px;letter-spacing:1.30px;font-size:11px;font-weight:bold;-webkit-text-stroke:0.3px #000">Margaret II of Hainaut</div>
<div style="left:372.7px;top:1327.9px;letter-spacing:0.59px;font-size:11px">countess of Holland</div>
<div style="left:379.3px;top:1341.2px;letter-spacing:1.11px;font-size:11px">1311-1345-1356</div>
<div style="left:28.3px;top:1370.2px;letter-spacing:0.71px;font-size:11px">Ulrich, prince of</div>
<div style="left:38.3px;top:1382.9px;letter-spacing:1.00px;font-size:11px">Wurtemberg</div>
<div style="left:161.0px;top:1370.2px;letter-spacing:0.62px;font-size:11px">Elizabeth</div>
<div style="left:156.7px;top:1382.9px;letter-spacing:0.88px;font-size:11px">1329-1402</div>
<div style="left:289.7px;top:1369.5px;letter-spacing:0.43px;font-size:11px">Anna</div>
<div style="left:273.7px;top:1382.5px;letter-spacing:0.95px;font-size:11px">1326-1361</div>
<div style="left:359.7px;top:1368.5px;letter-spacing:0.72px;font-size:11px">Otto V, margrave of</div>
<div style="left:379.7px;top:1384.2px;letter-spacing:0.56px;font-size:11px">Brandenburg</div>
<div style="left:384.7px;top:1396.9px;letter-spacing:0.66px;font-size:11px">1340-1379</div>
<div style="left:553.3px;top:1368.5px;letter-spacing:0.71px;font-size:11px">Margaret</div>
<div style="left:548.3px;top:1381.9px;letter-spacing:0.84px;font-size:11px">1325-1374</div>
<div style="left:643.3px;top:1366.9px;letter-spacing:0.76px;font-size:11px">Gerhard, prince</div>
<div style="left:649.0px;top:1379.5px;letter-spacing:0.75px;font-size:11px">of Hohenlohe</div>
<div style="left:12.7px;top:1411.9px;letter-spacing:0.66px;font-size:11px">Matilda of Lancaster</div>
<div style="left:38.3px;top:1425.2px;letter-spacing:0.68px;font-size:11px">1335-1362</div>
<div style="left:140.7px;top:1413.8px;letter-spacing:0.20px;font-size:10px">1352</div>
<div style="left:179.0px;top:1403.9px;letter-spacing:1.03px;font-size:11px;font-weight:bold;-webkit-text-stroke:0.3px #000">William V of Wittelsbach</div>
<div style="left:182.7px;top:1416.9px;letter-spacing:0.72px;font-size:11px">duke of Bavaria-Straubing</div>
<div style="left:207.3px;top:1430.2px;letter-spacing:1.00px;font-size:11px">1330-1356-1388</div>
<div style="left:486.3px;top:1408.5px;letter-spacing:0.71px;font-size:11px">Beatrice</div>
<div style="left:478.7px;top:1421.2px;letter-spacing:0.82px;font-size:11px">1344-1359</div>
<div style="left:555.0px;top:1413.2px;letter-spacing:0.00px;font-size:10px">1356</div>
<div style="left:598.3px;top:1409.2px;letter-spacing:0.85px;font-size:11px">Eric XII, king</div>
<div style="left:606.3px;top:1421.2px;letter-spacing:0.71px;font-size:11px">of Sweden</div>
<div style="left:114.3px;top:1462.5px;letter-spacing:0.71px;font-size:11px">Margaret of Brieg</div>
<div style="left:133.3px;top:1475.2px;letter-spacing:0.80px;font-size:11px">1342-1386</div>
<div style="left:231.0px;top:1462.0px;letter-spacing:0.77px;font-size:10px">1353</div>
<div style="left:272.0px;top:1451.9px;letter-spacing:1.15px;font-size:11px;font-weight:bold;-webkit-text-stroke:0.3px #000">Albrecht I of Wittelsbach</div>
<div style="left:277.0px;top:1465.2px;letter-spacing:0.79px;font-size:11px">duke of Bavaria-Straubing</div>
<div style="left:303.7px;top:1478.5px;letter-spacing:0.82px;font-size:11px">1336-1388-1407</div>
<div style="left:443.7px;top:1461.2px;letter-spacing:0.67px;font-size:10px">1394</div>
<div style="left:487.7px;top:1465.2px;letter-spacing:0.68px;font-size:11px">Margaret of Cleves</div>
<div style="left:510.7px;top:1477.5px;letter-spacing:0.75px;font-size:11px">1375-1412</div>
<div style="left:99.3px;top:1506.2px;letter-spacing:0.71px;font-size:11px">Albrecht</div>
<div style="left:92.3px;top:1518.5px;letter-spacing:0.80px;font-size:11px">1369-1397</div>
<div style="left:289.7px;top:1505.2px;letter-spacing:0.83px;font-size:11px">Catherine</div>
<div style="left:286.3px;top:1516.9px;letter-spacing:0.96px;font-size:11px">1361-1400</div>
<div style="left:359.7px;top:1509.8px;letter-spacing:0.53px;font-size:10px">1379</div>
<div style="left:396.0px;top:1506.9px;letter-spacing:0.83px;font-size:11px">William, duke</div>
<div style="left:409.3px;top:1520.2px;letter-spacing:0.88px;font-size:11px">of Julich</div>
<div style="left:502.3px;top:1506.2px;letter-spacing:0.74px;font-size:11px">Joanna</div>
<div style="left:494.0px;top:1518.5px;letter-spacing:0.66px;font-size:11px">1356-1386</div>
<div style="left:564.7px;top:1508.8px;letter-spacing:0.20px;font-size:10px">1370</div>
<div style="left:599.0px;top:1503.5px;letter-spacing:0.71px;font-size:11px">Wenzel IV of Luxemburg</div>
<div style="left:621.7px;top:1518.5px;letter-spacing:0.69px;font-size:11px">king of Bohemia</div>
<div style="left:10.7px;top:1541.9px;letter-spacing:0.57px;font-size:11px">Elizabeth of</div>
<div style="left:18.3px;top:1555.2px;letter-spacing:0.73px;font-size:11px">Bohemia</div>
<div style="left:12.3px;top:1570.9px;letter-spacing:0.88px;font-size:11px">1390-1451</div>
<div style="left:96.0px;top:1552.2px;letter-spacing:0.57px;font-size:10px">1418</div>
<div style="left:146.7px;top:1543.5px;letter-spacing:0.67px;font-size:11px">John, duke of</div>
<div style="left:134.3px;top:1556.2px;letter-spacing:0.75px;font-size:11px">Bavaria-Straubing</div>
<div style="left:148.3px;top:1570.2px;letter-spacing:1.07px;font-size:11px">1374-k.1425</div>
<div style="left:460.3px;top:1549.5px;letter-spacing:0.77px;font-size:11px">Margaret</div>
<div style="left:455.3px;top:1562.9px;letter-spacing:0.93px;font-size:11px">1363-1423</div>
<div style="left:532.3px;top:1551.2px;letter-spacing:-0.10px;font-size:10px">1385</div>
<div style="left:568.3px;top:1549.5px;letter-spacing:0.59px;font-size:11px">John the Fearless</div>
<div style="left:568.3px;top:1562.9px;letter-spacing:0.80px;font-size:11px">duke of Burgundy</div>
<div style="left:243.3px;top:1594.7px;letter-spacing:1.11px;font-size:11px;font-weight:bold;-webkit-text-stroke:0.3px #000">William VI</div>
<div style="left:227.8px;top:1607.7px;letter-spacing:0.94px;font-size:11px">1365-1407-1417</div>
<div style="left:343.7px;top:1595.5px;letter-spacing:0.10px;font-size:10px">1384</div>
<div style="left:391.3px;top:1596.9px;letter-spacing:0.75px;font-size:11px">Margaret of Burgundy</div>
<div style="left:422.7px;top:1608.5px;letter-spacing:0.89px;font-size:11px">1374-1441</div>
<div style="left:14.0px;top:1627.9px;letter-spacing:0.67px;font-size:11px">John of Valois, dauphin of France</div>
<div style="left:76.7px;top:1640.2px;letter-spacing:0.75px;font-size:11px">1398-1417</div>
<div style="left:218.7px;top:1624.5px;letter-spacing:0.10px;font-size:10px">1415</div>
<div style="left:8.3px;top:1659.5px;letter-spacing:0.81px;font-size:11px">John of Burgundy, duke of Brabant</div>
<div style="left:76.7px;top:1672.9px;letter-spacing:0.75px;font-size:11px">1403-1427</div>
<div style="left:208.5px;top:1659.9px;letter-spacing:0.55px;font-size:10px">1418-1422</div>
<div style="left:278.0px;top:1643.5px;letter-spacing:0.97px;font-size:11px;font-weight:bold;-webkit-text-stroke:0.3px #000">Jacqueline of Wittelsbach</div>
<div style="left:268.7px;top:1658.5px;letter-spacing:0.63px;font-size:11px">countess of Holland and Zeeland</div>
<div style="left:288.7px;top:1672.9px;letter-spacing:0.97px;font-size:11px">1401-1417-1432-k.1436</div>
<div style="left:471.8px;top:1626.3px;letter-spacing:0.51px;font-size:10px">1422-1425</div>
<div style="left:466.9px;top:1660.7px;letter-spacing:-0.27px;font-size:10px">1432</div>
<div style="left:538.3px;top:1626.9px;letter-spacing:0.74px;font-size:11px">Humphrey, duke of Gloucester</div>
<div style="left:604.7px;top:1639.5px;letter-spacing:0.40px;font-size:11px">d.1447</div>
<div style="left:507.7px;top:1660.9px;letter-spacing:0.73px;font-size:11px">Frank von Borsselen, count of Ostervant</div>
<div style="left:600.0px;top:1673.5px;letter-spacing:0.86px;font-size:11px">d.1470</div>
</div></body></html>
